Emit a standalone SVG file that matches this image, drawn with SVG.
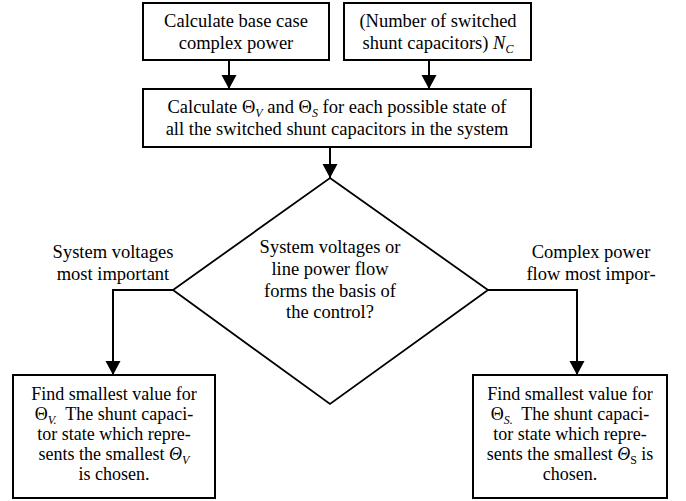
<svg xmlns="http://www.w3.org/2000/svg" width="686" height="501" viewBox="0 0 686 501">
<defs>
<style>
.box{fill:#fff;stroke:#000;stroke-width:2}
.dia{fill:none;stroke:#000;stroke-width:1.8}
.con{fill:none;stroke:#000;stroke-width:2}
.t{font-size:18.5px;fill:#000;text-anchor:middle}
.sm{font-size:18px}
.it{font-style:italic}
.sub{font-size:12px;font-style:italic}
.subr{font-size:12px}
</style>
<marker id="arr" markerUnits="userSpaceOnUse" markerWidth="16" markerHeight="16" viewBox="0 0 16 16" refX="14" refY="8" orient="auto">
<path d="M0,0.5 L14,8 L0,15.5 Z" fill="#000"/>
</marker>
</defs>
<rect width="686" height="501" fill="#fff"/>
<g id="connectors">
<line class="con" x1="229" y1="60" x2="229" y2="89" marker-end="url(#arr)"/>
<line class="con" x1="429" y1="60" x2="429" y2="89" marker-end="url(#arr)"/>
<line class="con" x1="330" y1="147" x2="330" y2="178" marker-end="url(#arr)"/>
<polyline class="con" points="173,290 113,290 113,375" marker-end="url(#arr)"/>
<polyline class="con" points="488,290 577,290 577,375" marker-end="url(#arr)"/>
</g>
<g font-family="Liberation Serif, Times New Roman, Tinos, Nimbus Roman, FreeSerif, DejaVu Serif, Noto Serif, serif">
<g id="box-base">
<rect class="box" x="143" y="3" width="186" height="57"/>
<text class="t" x="236" y="27">Calculate base case</text>
<text class="t" x="236" y="49">complex power</text>
</g>
<g id="box-nc">
<rect class="box" x="344" y="3" width="187" height="57"/>
<text class="t" x="438" y="27">(Number of switched</text>
<text class="t" x="438" y="49">shunt capacitors) <tspan class="it">N</tspan><tspan class="sub" dy="4">C</tspan></text>
</g>
<g id="box-calc">
<rect class="box" x="143" y="89" width="388" height="58"/>
<text class="t" x="337" y="113">Calculate Θ<tspan class="sub" dy="4">V</tspan><tspan dy="-4"> and Θ</tspan><tspan class="sub" dy="4">S</tspan><tspan dy="-4"> for each possible state of</tspan></text>
<text class="t" x="337" y="135">all the switched shunt capacitors in the system</text>
</g>
<g id="decision">
<polygon class="dia" points="330,178 488,290 330,404 173,290"/>
<text class="t" x="330" y="253">System voltages or</text>
<text class="t" x="330" y="275">line power flow</text>
<text class="t" x="330" y="297">forms the basis of</text>
<text class="t" x="330" y="318">the control?</text>
</g>
<g id="label-left">
<text class="t" x="113" y="258">System voltages</text>
<text class="t" x="113" y="280">most important</text>
</g>
<g id="label-right">
<text class="t" x="591" y="258">Complex power</text>
<text class="t" x="591" y="280">flow most impor-</text>
</g>
<g id="box-v">
<rect class="box" x="13" y="375" width="202" height="123"/>
<text class="t sm" x="114" y="400">Find smallest value for</text>
<text class="t sm" x="114" y="420">Θ<tspan class="sub" dy="4">V.</tspan><tspan dy="-4">&#160; The shunt capaci-</tspan></text>
<text class="t sm" x="114" y="440">tor state which repre-</text>
<text class="t sm" x="114" y="460">sents the smallest <tspan class="it">Θ</tspan><tspan class="sub" dy="4">V</tspan></text>
<text class="t sm" x="114" y="480">is chosen.</text>
</g>
<g id="box-s">
<rect class="box" x="473" y="375" width="194" height="123"/>
<text class="t sm" x="570" y="400">Find smallest value for</text>
<text class="t sm" x="570" y="420">Θ<tspan class="sub" dy="4">S.</tspan><tspan dy="-4">&#160; The shunt capaci-</tspan></text>
<text class="t sm" x="570" y="440">tor state which repre-</text>
<text class="t sm" x="570" y="460">sents the smallest <tspan class="it">Θ</tspan><tspan class="subr" dy="4">S</tspan><tspan dy="-4"> is</tspan></text>
<text class="t sm" x="570" y="480">chosen.</text>
</g>
</g>
</svg>
